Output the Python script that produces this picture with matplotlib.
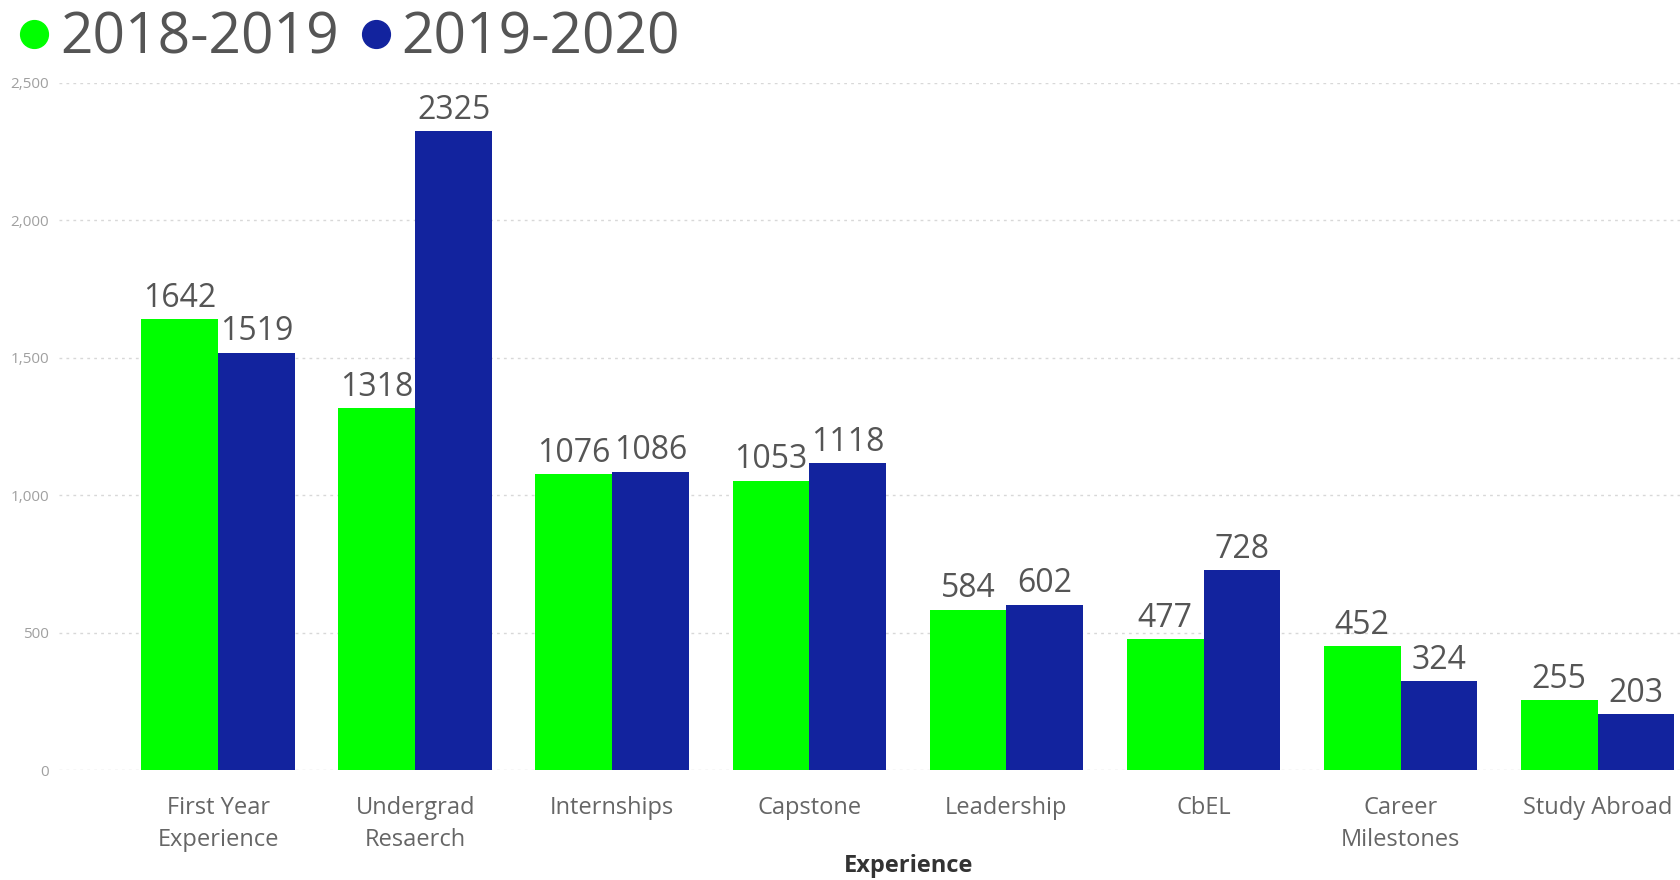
import numpy as np
from matplotlib import pyplot as plt
from matplotlib.lines import Line2D

categories = [
    "First Year\nExperience",
    "Undergrad\nResaerch",
    "Internships",
    "Capstone",
    "Leadership",
    "CbEL",
    "Career\nMilestones",
    "Study Abroad",
]
series_names = ["2018-2019", "2019-2020"]
values_2018 = [1642, 1318, 1076, 1053, 584, 477, 452, 255]
values_2019 = [1519, 2325, 1086, 1118, 602, 728, 324, 203]
y_ticks = [0, 500, 1000, 1500, 2000, 2500]

green = "#00FF00"
blue = "#12239E"


def main() -> None:
    plt.rcParams["font.family"] = ["Open Sans", "DejaVu Sans"]

    fig = plt.figure(figsize=(16.81, 8.80), dpi=100)
    ax = fig.add_axes([59 / 1681, 0.125, 1622 / 1681, 0.7807])

    x = np.arange(len(categories))
    width = 0.39

    bars0 = ax.bar(x - width / 2, values_2018, width, color=green, zorder=2)
    bars1 = ax.bar(x + width / 2, values_2019, width, color=blue, zorder=2)

    for bars in (bars0, bars1):
        ax.bar_label(bars, padding=3, fontsize=23, color="#555555")

    ax.set_xlim(-0.808, 7.423)
    ax.set_ylim(0, 2500)
    ax.set_yticks(y_ticks)
    ax.set_yticklabels([f"{v:,}" for v in y_ticks])
    ax.set_xticks(x)
    ax.set_xticklabels(categories, fontsize=17, color="#666666", linespacing=1.45)

    ax.tick_params(axis="y", length=0, pad=7, labelsize=11, labelcolor="#a0a0a0")
    ax.tick_params(axis="x", length=0, pad=19)

    ax.grid(axis="y", color="#d8d8d8", linestyle=(0, (2, 3)), linewidth=1, zorder=0)
    for spine in ax.spines.values():
        spine.set_visible(False)

    ax.set_xlabel("Experience", fontsize=17, fontweight="bold", color="#333333")
    ax.xaxis.label.set_va("center")
    ax.xaxis.set_label_coords((909 - 59) / 1622, -0.14)

    handles = [
        Line2D([], [], marker="o", linestyle="", markersize=20, color=c)
        for c in (green, blue)
    ]
    fig.legend(
        handles,
        series_names,
        loc="upper left",
        bbox_to_anchor=(20 / 1681, 0.988),
        ncol=2,
        frameon=False,
        fontsize=41,
        labelcolor="#555555",
        handlelength=0.5,
        handletextpad=0.2,
        columnspacing=0.4,
        borderpad=0,
        borderaxespad=0,
    )

    fig.savefig("out.png", dpi=100)


if __name__ == "__main__":
    main()
